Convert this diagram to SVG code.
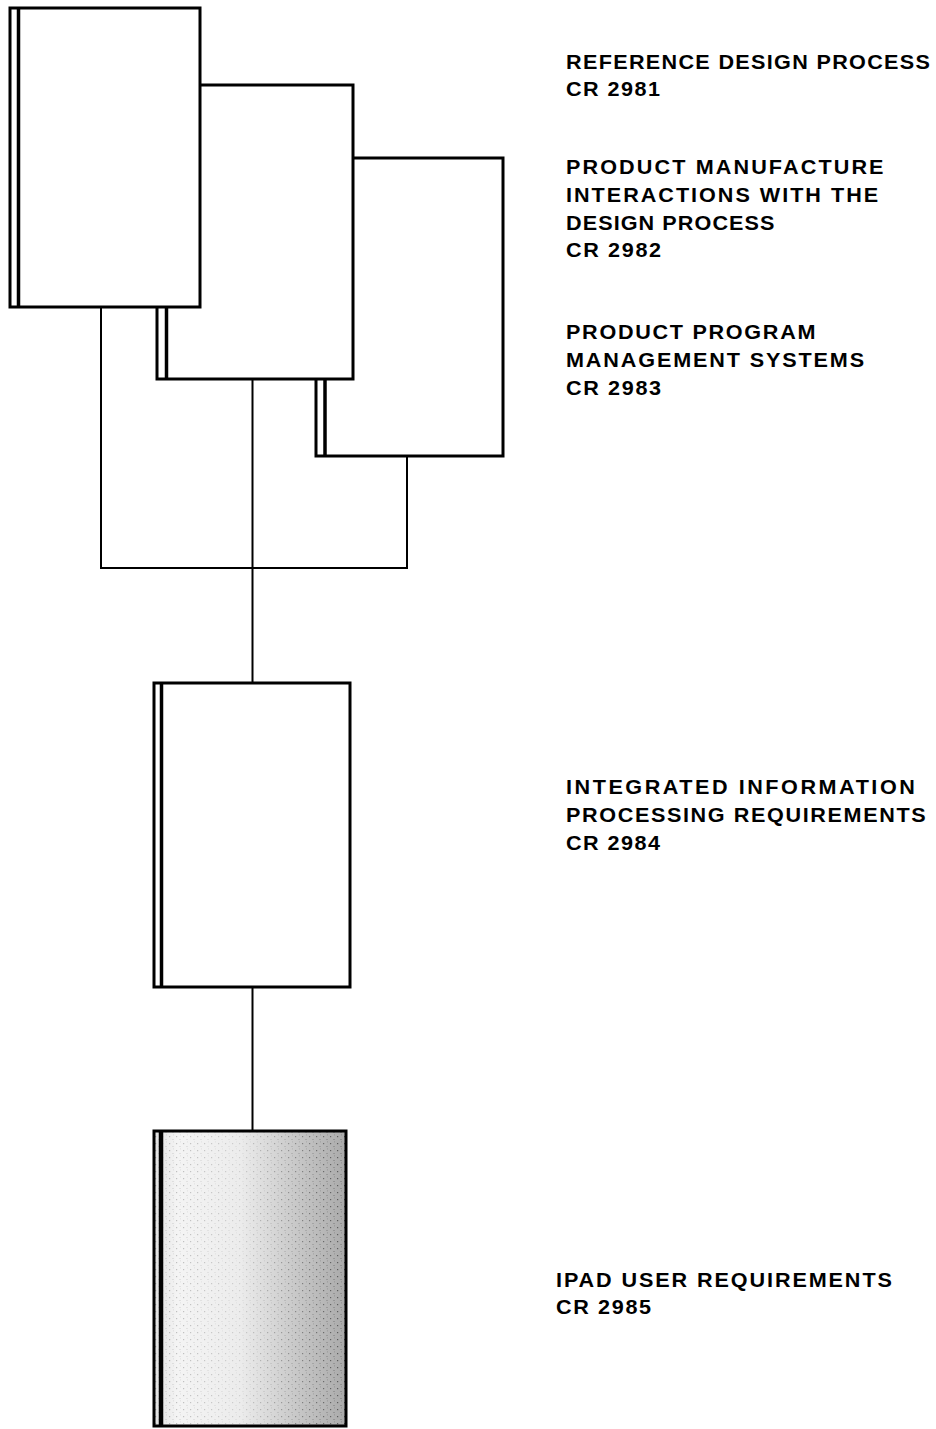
<svg xmlns="http://www.w3.org/2000/svg" width="936" height="1429" viewBox="0 0 936 1429">
<style>
.box{fill:#fff;stroke:#000;stroke-width:3}
.spine{stroke:#000;stroke-width:3.5;fill:none}
.conn{stroke:#000;stroke-width:2;fill:none}
text{font-family:"Liberation Sans",Arial,Helvetica,sans-serif;font-weight:bold;font-size:20px;fill:#000}
</style>
<defs>
<linearGradient id="shade" x1="0" y1="0" x2="1" y2="0">
<stop offset="0" stop-color="#e0e0e0"/>
<stop offset="0.12" stop-color="#f4f4f4"/>
<stop offset="0.45" stop-color="#ececec"/>
<stop offset="0.7" stop-color="#cdcdcd"/>
<stop offset="1" stop-color="#aaaaaa"/>
</linearGradient>
<pattern id="dots" width="7" height="7" patternUnits="userSpaceOnUse">
<rect x="1" y="2" width="1.2" height="1.2" fill="#000" fill-opacity="0.5"/>
<rect x="4.5" y="5" width="1" height="1" fill="#000" fill-opacity="0.35"/>
<rect x="5" y="0.5" width="0.8" height="0.8" fill="#000" fill-opacity="0.3"/>
</pattern>
<linearGradient id="fadeMask" x1="0" y1="0" x2="1" y2="0">
<stop offset="0" stop-color="#fff" stop-opacity="0.5"/>
<stop offset="0.45" stop-color="#fff" stop-opacity="0.25"/>
<stop offset="1" stop-color="#fff" stop-opacity="1"/>
</linearGradient>
<mask id="dm"><rect x="153" y="1130" width="193" height="296" fill="url(#fadeMask)"/></mask>
</defs>

<g id="connectors">
<polyline class="conn" points="101,307 101,568 407,568 407,456"/>
<line class="conn" x1="252.5" y1="379" x2="252.5" y2="683"/>
<line class="conn" x1="252.5" y1="987" x2="252.5" y2="1130"/>
</g>

<g id="node-cr2983">
<rect class="box" x="316" y="158" width="187" height="298"/>
<line class="spine" x1="325" y1="379" x2="325" y2="456"/>
</g>

<g id="node-cr2982">
<rect class="box" x="157" y="85" width="196" height="294"/>
<line class="spine" x1="166.5" y1="307" x2="166.5" y2="379"/>
</g>

<g id="node-cr2981">
<rect class="box" x="10" y="8" width="190" height="299"/>
<line class="spine" x1="18.5" y1="8" x2="18.5" y2="307"/>
</g>

<g id="node-cr2984">
<rect class="box" x="154" y="683" width="196" height="304"/>
<line class="spine" x1="161.5" y1="683" x2="161.5" y2="987"/>
</g>

<g id="node-cr2985">
<rect x="154" y="1131" width="192" height="295" fill="url(#shade)"/>
<rect x="154" y="1131" width="192" height="295" fill="url(#dots)" mask="url(#dm)"/>
<rect x="154" y="1131" width="192" height="295" fill="none" stroke="#000" stroke-width="3"/>
<line x1="161" y1="1131" x2="161" y2="1426" stroke="#000" stroke-width="4.5"/>
</g>

<g id="labels">
<text transform="matrix(1.08 0 0 1 566 68.5)" textLength="337" lengthAdjust="spacing">REFERENCE DESIGN PROCESS</text>
<text transform="matrix(1.08 0 0 1 566 95.5)" textLength="87" lengthAdjust="spacing">CR 2981</text>

<text transform="matrix(1.08 0 0 1 566 173.5)" textLength="294" lengthAdjust="spacing">PRODUCT MANUFACTURE</text>
<text transform="matrix(1.08 0 0 1 566 201.5)" textLength="289" lengthAdjust="spacing">INTERACTIONS WITH THE</text>
<text transform="matrix(1.08 0 0 1 566 229.5)" textLength="193" lengthAdjust="spacing">DESIGN PROCESS</text>
<text transform="matrix(1.08 0 0 1 566 256.5)" textLength="88" lengthAdjust="spacing">CR 2982</text>

<text transform="matrix(1.08 0 0 1 566 338.5)" textLength="231" lengthAdjust="spacing">PRODUCT PROGRAM</text>
<text transform="matrix(1.08 0 0 1 566 366.5)" textLength="276" lengthAdjust="spacing">MANAGEMENT SYSTEMS</text>
<text transform="matrix(1.08 0 0 1 566 394.5)" textLength="88" lengthAdjust="spacing">CR 2983</text>

<text transform="matrix(1.08 0 0 1 566 793.5)" textLength="323" lengthAdjust="spacing">INTEGRATED INFORMATION</text>
<text transform="matrix(1.08 0 0 1 566 821.5)" textLength="333" lengthAdjust="spacing">PROCESSING REQUIREMENTS</text>
<text transform="matrix(1.08 0 0 1 566 849.5)" textLength="87" lengthAdjust="spacing">CR 2984</text>

<text transform="matrix(1.08 0 0 1 556 1286.5)" textLength="311" lengthAdjust="spacing">IPAD USER REQUIREMENTS</text>
<text transform="matrix(1.08 0 0 1 556 1313.5)" textLength="88" lengthAdjust="spacing">CR 2985</text>
</g>
</svg>
